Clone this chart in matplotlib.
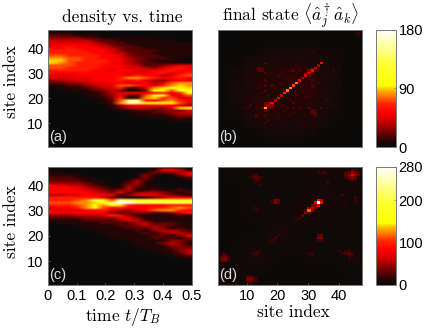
import matplotlib
matplotlib.use("Agg")
import matplotlib.pyplot as plt
import numpy as np
from matplotlib.colors import LinearSegmentedColormap

plt.rcParams["font.family"] = ["Liberation Sans", "DejaVu Sans"]
plt.rcParams["mathtext.fontset"] = "cm"

W, H = 436, 328

# density vs. time, one row per site from 47 down to 1, 17 time steps, 0-20 scale
dens_a = [
    [0, 0, 0, 0, 0, 0, 0, 0, 0, 0, 0, 0, 0, 0, 0, 0, 0],
    [1, 1, 1, 0, 0, 0, 0, 0, 0, 0, 0, 0, 0, 0, 0, 0, 0],
    [2, 2, 2, 1, 1, 1, 0, 0, 0, 0, 0, 0, 0, 0, 0, 0, 0],
    [3, 3, 3, 3, 2, 2, 1, 1, 1, 1, 1, 1, 0, 0, 0, 0, 0],
    [4, 4, 4, 4, 4, 3, 2, 2, 1, 1, 1, 1, 1, 1, 1, 0, 0],
    [5, 5, 5, 5, 5, 4, 3, 2, 2, 1, 1, 1, 1, 1, 1, 1, 1],
    [5, 6, 6, 6, 6, 5, 4, 3, 2, 2, 1, 1, 1, 1, 1, 1, 1],
    [6, 6, 7, 6, 6, 6, 5, 4, 3, 2, 2, 1, 1, 1, 1, 1, 1],
    [7, 7, 7, 7, 6, 6, 6, 5, 3, 2, 2, 2, 2, 1, 1, 1, 1],
    [7, 7, 7, 7, 7, 6, 6, 5, 4, 3, 2, 2, 1, 1, 1, 1, 1],
    [8, 8, 7, 7, 7, 7, 6, 6, 5, 3, 2, 2, 2, 1, 1, 1, 1],
    [9, 9, 8, 8, 7, 7, 6, 6, 5, 4, 3, 2, 2, 2, 1, 1, 0],
    [10, 10, 8, 8, 7, 7, 7, 6, 6, 4, 3, 2, 1, 1, 1, 0, 0],
    [10, 9, 8, 7, 7, 7, 7, 6, 5, 4, 3, 2, 2, 1, 1, 1, 0],
    [8, 8, 8, 7, 7, 7, 6, 6, 6, 5, 4, 2, 2, 3, 4, 5, 5],
    [8, 8, 7, 7, 7, 7, 6, 6, 6, 5, 5, 4, 3, 5, 6, 7, 6],
    [7, 7, 7, 7, 7, 6, 6, 5, 6, 6, 5, 5, 6, 6, 7, 6, 6],
    [6, 6, 6, 6, 6, 6, 6, 6, 6, 5, 5, 5, 6, 7, 5, 6, 7],
    [5, 5, 5, 6, 6, 6, 6, 6, 6, 6, 7, 6, 6, 4, 5, 7, 8],
    [5, 5, 5, 5, 5, 6, 6, 6, 7, 9, 9, 8, 7, 6, 6, 7, 6],
    [3, 4, 4, 5, 5, 6, 6, 6, 7, 6, 7, 5, 4, 3, 5, 6, 5],
    [2, 2, 3, 3, 4, 5, 5, 6, 6, 5, 5, 6, 4, 5, 8, 9, 9],
    [1, 1, 2, 2, 3, 4, 5, 5, 8, 8, 7, 6, 5, 7, 9, 10, 9],
    [0, 1, 1, 1, 2, 3, 4, 5, 7, 2, 2, 5, 9, 10, 12, 11, 10],
    [0, 0, 1, 1, 1, 2, 3, 4, 3, 1, 1, 3, 11, 11, 8, 13, 12],
    [0, 0, 0, 0, 1, 1, 2, 4, 5, 6, 6, 5, 6, 7, 5, 7, 11],
    [0, 0, 0, 0, 1, 1, 2, 3, 6, 2, 2, 8, 11, 12, 6, 5, 8],
    [0, 0, 0, 0, 0, 1, 1, 3, 7, 1, 2, 9, 10, 7, 8, 5, 5],
    [0, 0, 0, 0, 0, 0, 1, 2, 8, 15, 17, 7, 6, 8, 9, 7, 6],
    [0, 0, 0, 0, 0, 0, 1, 2, 9, 19, 17, 11, 11, 13, 11, 8, 5],
    [0, 0, 0, 0, 0, 0, 0, 1, 3, 5, 6, 5, 6, 6, 6, 5, 4],
    [0, 0, 0, 0, 0, 0, 0, 1, 2, 4, 4, 4, 3, 3, 5, 10, 14],
    [0, 0, 0, 0, 0, 0, 0, 0, 1, 1, 2, 2, 2, 3, 3, 3, 5],
    [0, 0, 0, 0, 0, 0, 0, 0, 0, 1, 1, 1, 2, 2, 3, 4, 4],
    [0, 0, 0, 0, 0, 0, 0, 0, 0, 0, 1, 1, 1, 1, 2, 3, 3],
    [0, 0, 0, 0, 0, 0, 0, 0, 0, 0, 0, 0, 1, 1, 1, 2, 1],
    [0, 0, 0, 0, 0, 0, 0, 0, 0, 0, 0, 0, 0, 0, 1, 1, 1],
    [0, 0, 0, 0, 0, 0, 0, 0, 0, 0, 0, 0, 0, 0, 0, 0, 0],
    [0, 0, 0, 0, 0, 0, 0, 0, 0, 0, 0, 0, 0, 0, 0, 0, 0],
    [0, 0, 0, 0, 0, 0, 0, 0, 0, 0, 0, 0, 0, 0, 0, 0, 0],
    [0, 0, 0, 0, 0, 0, 0, 0, 0, 0, 0, 0, 0, 0, 0, 0, 0],
    [0, 0, 0, 0, 0, 0, 0, 0, 0, 0, 0, 0, 0, 0, 0, 0, 0],
    [0, 0, 0, 0, 0, 0, 0, 0, 0, 0, 0, 0, 0, 0, 0, 0, 0],
    [0, 0, 0, 0, 0, 0, 0, 0, 0, 0, 0, 0, 0, 0, 0, 0, 0],
    [0, 0, 0, 0, 0, 0, 0, 0, 0, 0, 0, 0, 0, 0, 0, 0, 0],
    [0, 0, 0, 0, 0, 0, 0, 0, 0, 0, 0, 0, 0, 0, 0, 0, 0],
    [0, 0, 0, 0, 0, 0, 0, 0, 0, 0, 0, 0, 0, 0, 0, 0, 0],
]

dens_c = [
    [0, 0, 0, 0, 0, 0, 0, 0, 0, 0, 0, 0, 0, 0, 0, 0, 0],
    [0, 0, 0, 0, 0, 0, 0, 0, 0, 0, 0, 0, 1, 5, 6, 4, 1],
    [1, 1, 0, 0, 0, 0, 0, 0, 0, 0, 0, 1, 3, 3, 3, 4, 5],
    [1, 1, 1, 1, 0, 0, 0, 0, 0, 0, 1, 3, 1, 0, 1, 3, 6],
    [2, 2, 2, 1, 1, 0, 0, 0, 0, 0, 1, 3, 1, 0, 0, 1, 2],
    [2, 2, 2, 2, 1, 1, 0, 0, 0, 1, 3, 2, 0, 0, 0, 0, 1],
    [3, 3, 3, 3, 2, 1, 1, 0, 0, 2, 4, 1, 0, 0, 0, 0, 0],
    [5, 5, 4, 4, 3, 2, 1, 0, 1, 3, 3, 1, 1, 0, 0, 0, 0],
    [6, 6, 6, 5, 4, 3, 2, 1, 1, 4, 2, 1, 1, 1, 0, 1, 0],
    [6, 6, 6, 6, 5, 4, 3, 2, 3, 4, 1, 1, 2, 1, 1, 2, 1],
    [6, 6, 6, 6, 6, 5, 4, 3, 5, 2, 3, 4, 4, 3, 2, 1, 2],
    [4, 4, 5, 5, 6, 6, 6, 5, 1, 3, 5, 6, 5, 4, 3, 2, 1],
    [7, 7, 7, 7, 7, 7, 5, 3, 2, 1, 1, 1, 3, 4, 6, 6, 6],
    [7, 7, 7, 8, 9, 15, 12, 8, 17, 15, 12, 12, 12, 12, 12, 12, 12],
    [8, 8, 8, 9, 9, 10, 12, 15, 20, 20, 16, 15, 15, 15, 15, 15, 15],
    [7, 7, 7, 8, 9, 11, 9, 12, 10, 7, 6, 6, 6, 6, 7, 7, 7],
    [5, 6, 6, 7, 9, 12, 8, 6, 7, 6, 6, 6, 7, 7, 8, 9, 8],
    [5, 5, 5, 5, 6, 6, 7, 5, 4, 3, 5, 6, 8, 9, 9, 7, 6],
    [6, 6, 6, 6, 6, 6, 6, 3, 2, 3, 3, 3, 2, 2, 3, 5, 7],
    [3, 3, 3, 4, 4, 4, 5, 7, 6, 3, 1, 1, 1, 1, 1, 2, 1],
    [2, 2, 2, 2, 3, 3, 3, 3, 5, 5, 3, 1, 1, 1, 1, 1, 1],
    [1, 1, 1, 1, 2, 2, 2, 2, 3, 5, 4, 2, 1, 1, 1, 1, 1],
    [0, 1, 1, 1, 1, 1, 2, 2, 2, 2, 4, 4, 2, 2, 2, 1, 1],
    [0, 0, 0, 1, 1, 1, 1, 1, 2, 2, 3, 4, 3, 3, 2, 1, 1],
    [0, 0, 0, 0, 1, 1, 1, 1, 1, 2, 2, 2, 4, 3, 1, 2, 1],
    [0, 0, 0, 0, 0, 1, 1, 1, 1, 1, 2, 1, 3, 4, 4, 3, 2],
    [0, 0, 0, 0, 0, 0, 1, 1, 1, 1, 1, 2, 1, 3, 4, 4, 3],
    [0, 0, 0, 0, 0, 0, 0, 1, 1, 1, 1, 1, 2, 2, 1, 3, 5],
    [0, 0, 0, 0, 0, 0, 0, 1, 1, 1, 1, 1, 2, 2, 2, 1, 3],
    [0, 0, 0, 0, 0, 0, 0, 0, 0, 1, 1, 1, 1, 1, 3, 3, 2],
    [0, 0, 0, 0, 0, 0, 0, 0, 0, 0, 1, 1, 1, 3, 4, 3, 1],
    [0, 0, 0, 0, 0, 0, 0, 0, 0, 0, 1, 1, 1, 1, 3, 3, 2],
    [0, 0, 0, 0, 0, 0, 0, 0, 0, 0, 0, 1, 1, 1, 2, 3, 3],
    [0, 0, 0, 0, 0, 0, 0, 0, 0, 0, 0, 0, 1, 1, 1, 3, 4],
    [0, 0, 0, 0, 0, 0, 0, 0, 0, 0, 0, 0, 0, 1, 1, 2, 4],
    [0, 0, 0, 0, 0, 0, 0, 0, 0, 0, 0, 0, 0, 0, 1, 1, 2],
    [0, 0, 0, 0, 0, 0, 0, 0, 0, 0, 0, 0, 0, 0, 0, 1, 1],
    [0, 0, 0, 0, 0, 0, 0, 0, 0, 0, 0, 0, 0, 0, 0, 0, 0],
    [0, 0, 0, 0, 0, 0, 0, 0, 0, 0, 0, 0, 0, 0, 0, 0, 0],
    [0, 0, 0, 0, 0, 0, 0, 0, 0, 0, 0, 0, 0, 0, 0, 0, 0],
    [0, 0, 0, 0, 0, 0, 0, 0, 0, 0, 0, 0, 0, 0, 0, 0, 0],
    [0, 0, 0, 0, 0, 0, 0, 0, 0, 0, 0, 0, 0, 0, 0, 0, 0],
    [0, 0, 0, 0, 0, 0, 0, 0, 0, 0, 0, 0, 0, 0, 0, 0, 0],
    [0, 0, 0, 0, 0, 0, 0, 0, 0, 0, 0, 0, 0, 0, 0, 0, 0],
    [0, 0, 0, 0, 0, 0, 0, 0, 0, 0, 0, 0, 0, 0, 0, 0, 0],
    [0, 0, 0, 0, 0, 0, 0, 0, 0, 0, 0, 0, 0, 0, 0, 0, 0],
    [0, 0, 0, 0, 0, 0, 0, 0, 0, 0, 0, 0, 0, 0, 0, 0, 0],
]

# final state: coarse background (12 x 12, low sites first) plus bright cells (j, k, value)
back_b = [
    [0, 0, 1, 1, 2, 2, 2, 1, 1, 0, 0, 0],
    [0, 1, 1, 3, 4, 4, 4, 3, 2, 1, 1, 0],
    [1, 1, 4, 6, 7, 6, 6, 6, 4, 2, 1, 1],
    [1, 3, 6, 9, 10, 8, 8, 8, 5, 3, 1, 1],
    [2, 4, 7, 10, 10, 8, 9, 9, 6, 4, 2, 1],
    [2, 4, 6, 8, 8, 9, 10, 10, 7, 4, 2, 1],
    [2, 4, 6, 8, 9, 10, 10, 10, 7, 4, 2, 1],
    [1, 3, 6, 8, 9, 10, 10, 10, 6, 4, 2, 1],
    [1, 2, 4, 5, 6, 7, 7, 6, 5, 3, 2, 1],
    [0, 1, 2, 3, 4, 4, 4, 4, 3, 3, 2, 2],
    [0, 1, 1, 1, 2, 2, 2, 2, 2, 2, 2, 2],
    [0, 0, 1, 1, 1, 1, 1, 1, 1, 2, 2, 2],
]
cells_b = [
    (16, 16, 85), (17, 17, 30), (18, 18, 55), (19, 19, 35), (20, 20, 50), (21, 21, 35),
    (22, 22, 65), (23, 23, 78), (24, 24, 80), (25, 25, 70), (26, 26, 78), (27, 27, 48),
    (28, 28, 30), (29, 29, 50), (30, 30, 40), (31, 31, 55), (32, 32, 40), (33, 33, 30),
    (34, 34, 55), (17, 18, 28), (16, 18, 22), (15, 16, 20), (16, 17, 24), (13, 16, 14),
    (14, 32, 18), (13, 32, 16), (15, 32, 15), (16, 34, 15), (16, 30, 17), (16, 27, 16),
    (16, 25, 17), (16, 23, 15), (16, 36, 12), (13, 13, 17), (14, 31, 20), (15, 31, 18),
    (25, 31, 18), (27, 31, 16), (24, 31, 13), (29, 30, 20), (30, 31, 22), (31, 32, 18),
    (26, 27, 16), (22, 23, 15), (18, 25, 17), (20, 29, 15), (21, 26, 15), (13, 24, 12),
    (14, 25, 13), (10, 16, 13), (11, 17, 14), (12, 20, 12), (19, 36, 12), (23, 36, 11),
    (26, 38, 11), (31, 38, 12), (36, 38, 10), (10, 27, 11), (20, 33, 11), (46, 46, 14),
    (45, 46, 11), (33, 40, 10), (8, 16, 10), (9, 22, 10), (7, 25, 9), (9, 29, 10),
    (6, 31, 8), (17, 21, 13), (19, 24, 12), (21, 30, 13), (23, 28, 12), (25, 28, 14),
    (18, 30, 12), (20, 23, 11), (26, 33, 12), (28, 35, 11), (30, 36, 10), (19, 27, 10),
    (15, 22, 12), (14, 19, 11), (12, 26, 10), (17, 38, 9), (22, 39, 9), (27, 40, 9),
]

back_d = [
    [6, 5, 4, 3, 3, 2, 2, 2, 2, 2, 3, 3],
    [5, 6, 5, 4, 3, 2, 2, 3, 3, 3, 4, 4],
    [4, 5, 6, 6, 4, 3, 3, 4, 4, 4, 4, 6],
    [3, 4, 6, 4, 4, 4, 4, 5, 4, 4, 4, 5],
    [3, 3, 4, 4, 6, 6, 5, 4, 4, 4, 4, 4],
    [2, 2, 3, 4, 6, 6, 5, 5, 4, 4, 4, 4],
    [2, 2, 3, 4, 5, 5, 6, 7, 5, 4, 4, 4],
    [2, 3, 4, 5, 4, 5, 7, 8, 7, 5, 5, 5],
    [2, 3, 4, 4, 4, 4, 5, 7, 7, 6, 5, 5],
    [2, 3, 4, 4, 4, 4, 4, 5, 6, 7, 5, 7],
    [3, 4, 4, 4, 4, 4, 4, 5, 5, 5, 5, 6],
    [3, 4, 6, 5, 4, 4, 4, 5, 5, 7, 6, 10],
]
cells_d = [
    (33, 33, 280), (33, 34, 90), (32, 33, 75), (34, 34, 55), (32, 32, 40), (30, 30, 115),
    (31, 31, 55), (29, 29, 45), (28, 28, 32), (27, 27, 25), (26, 26, 18), (30, 31, 45),
    (31, 32, 38), (29, 30, 30), (19, 34, 38), (20, 34, 34), (18, 34, 20), (19, 33, 17),
    (33, 19, 40), (33, 20, 28), (33, 18, 20),
    (44, 44, 70), (43, 44, 42), (44, 45, 42), (43, 43, 34), (45, 45, 32), (42, 44, 30),
    (43, 45, 32), (44, 46, 30), (42, 45, 25), (42, 43, 24), (45, 46, 24),
    (3, 11, 40), (2, 11, 36), (3, 10, 36), (2, 10, 32), (3, 12, 32), (2, 12, 27),
    (4, 11, 25), (4, 10, 20), (1, 11, 20), (3, 13, 20), (2, 13, 20), (4, 12, 17),
    (13, 43, 28), (12, 43, 25), (14, 43, 24), (13, 42, 25), (13, 44, 22), (12, 44, 20),
    (14, 42, 20), (11, 43, 17), (15, 43, 17), (13, 41, 17),
    (13, 13, 24), (12, 13, 20), (14, 14, 20), (14, 13, 17), (13, 31, 20), (12, 31, 19),
    (14, 31, 15), (13, 30, 16), (19, 19, 24), (18, 18, 20), (20, 20, 17), (21, 21, 15),
    (17, 17, 14), (36, 41, 20), (32, 42, 15), (35, 45, 24), (34, 45, 17), (33, 45, 20),
    (33, 41, 12), (24, 39, 13), (14, 40, 20), (12, 40, 15), (13, 28, 12),
]

site_ticks = [10, 20, 30, 40]
time_ticks = [0, 0.1, 0.2, 0.3, 0.4, 0.5]
bar_ticks_top = [0, 90, 180]
bar_ticks_bottom = [0, 100, 200, 280]

cm_colors = [
    (0.0, (0.04, 0.04, 0.04)), (0.05, (0.14, 0.02, 0.02)), (0.12, (0.42, 0, 0)),
    (0.22, (0.8, 0, 0)), (0.3, (1, 0, 0)), (0.37, (1, 0.15, 0)), (0.45, (1, 0.55, 0)),
    (0.49, (1, 0.75, 0)), (0.52, (1, 1, 0)), (0.7, (1, 1, 0.2)), (0.85, (1, 1, 0.6)),
    (1.0, (1, 1, 1)),
]
cmap = LinearSegmentedColormap.from_list("hot2", cm_colors, N=256)


def axes_px(fig, x0, y0, x1, y1):
    return fig.add_axes([x0 / W, 1 - y1 / H, (x1 - x0) / W, (y1 - y0) / H])


def build_state(back, cells):
    state = np.zeros((47, 47))
    for j in range(47):
        for k in range(47):
            state[j, k] = back[j * 12 // 47][k * 12 // 47]
    for j, k, val in cells:
        state[j - 1, k - 1] = val
        state[k - 1, j - 1] = val
    return state


def style(ax):
    for s in ax.spines.values():
        s.set_color("#777777")
        s.set_linewidth(0.7)
    ax.tick_params(direction="in", length=1.5, width=0.5, color="#777777", labelsize=10.5, pad=3)


fig = plt.figure(figsize=(W / 100, H / 100), dpi=100)

ax1 = axes_px(fig, 47.7, 29.5, 191.7, 147)
ax2 = axes_px(fig, 217.5, 29.5, 362, 147)
ax3 = axes_px(fig, 47.7, 166.5, 191.7, 285)
ax4 = axes_px(fig, 217.5, 166.5, 362, 285)
cax1 = axes_px(fig, 376, 29.5, 395.7, 147)
cax2 = axes_px(fig, 376, 166.5, 395.7, 285)

ax1.imshow(dens_a, cmap=cmap, vmin=0, vmax=20, aspect="auto", extent=[0, 0.5, 0.5, 47.5], interpolation="bilinear")
ax3.imshow(dens_c, cmap=cmap, vmin=0, vmax=20, aspect="auto", extent=[0, 0.5, 0.5, 47.5], interpolation="bilinear")
im2 = ax2.imshow(build_state(back_b, cells_b), cmap=cmap, vmin=0, vmax=180, aspect="auto", origin="lower",
                 extent=[0.5, 47.5, 0.5, 47.5], interpolation="nearest")
im4 = ax4.imshow(build_state(back_d, cells_d), cmap=cmap, vmin=0, vmax=280, aspect="auto", origin="lower",
                 extent=[0.5, 47.5, 0.5, 47.5], interpolation="nearest")

for ax, lab in zip([ax1, ax2, ax3, ax4], ["(a)", "(b)", "(c)", "(d)"]):
    style(ax)
    ax.text(0.01, 0.025, lab, transform=ax.transAxes, color="#dddddd", fontsize=10.5, va="bottom", ha="left")

ax1.set_xticks([])
ax1.set_yticks(site_ticks)
ax3.set_xticks(time_ticks)
ax3.set_xticklabels(["0", "0.1", "0.2", "0.3", "0.4", "0.5"])
ax3.set_yticks(site_ticks)
ax2.set_xticks([])
ax2.set_yticks([])
ax4.set_xticks(site_ticks)
ax4.set_yticks([])

cm_font = {"family": "cmr10", "fontsize": 12.5}
fig.text(122.5 / W, 1 - 17 / H, "density vs. time", ha="center", va="center", **cm_font)
fig.text(290 / W, 1 - 16 / H, r"final state $\langle\hat{a}_j^\dagger\hat{a}_k\rangle$", ha="center", va="center", **cm_font)
fig.text(11 / W, 1 - 81.5 / H, "site index", ha="center", va="center", rotation=90, **cm_font)
fig.text(11 / W, 1 - 221.5 / H, "site index", ha="center", va="center", rotation=90, **cm_font)
fig.text(123 / W, 1 - 316.5 / H, r"time $t/T_B$", ha="center", va="center", **cm_font)
fig.text(293 / W, 1 - 312.5 / H, "site index", ha="center", va="center", **cm_font)

cb1 = fig.colorbar(im2, cax=cax1, ticks=bar_ticks_top)
cb2 = fig.colorbar(im4, cax=cax2, ticks=bar_ticks_bottom)
for cb in [cb1, cb2]:
    cb.outline.set_edgecolor("#777777")
    cb.outline.set_linewidth(0.7)
    cb.ax.tick_params(direction="in", length=1.5, width=0.5, color="#777777", labelsize=10.5, pad=2)

fig.savefig("out.png", dpi=100)
